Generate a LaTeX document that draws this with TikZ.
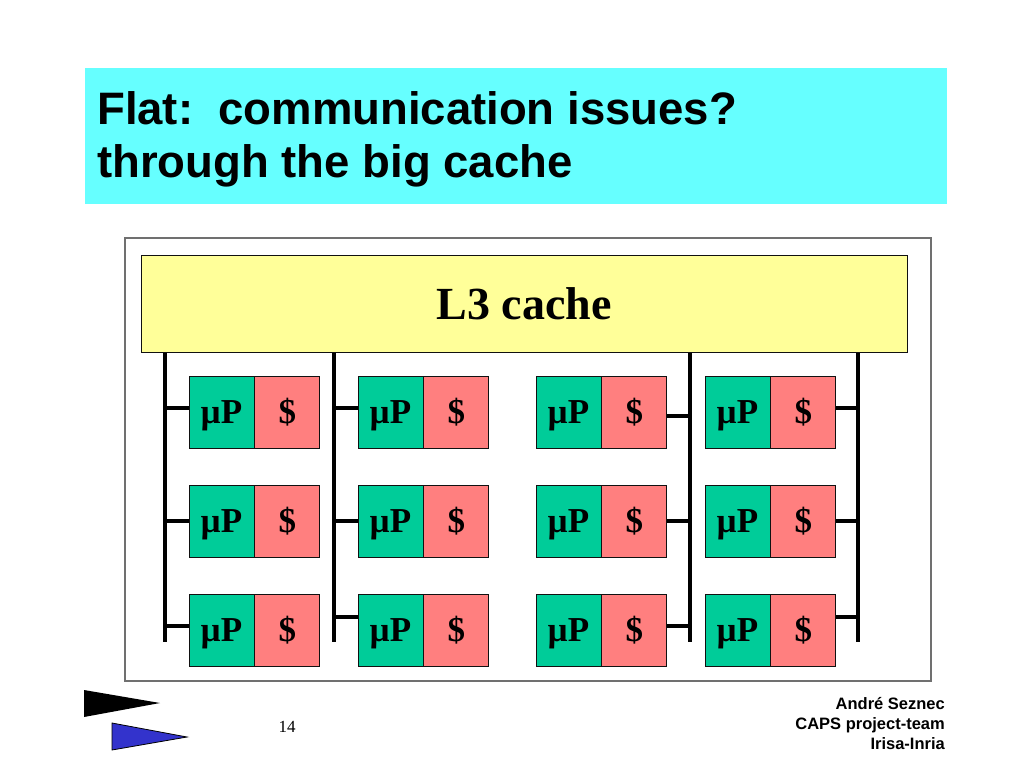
\documentclass[tikz,border=0pt]{standalone}
\usepackage{fontspec}
\setmainfont{Liberation Serif}
\setsansfont{Liberation Sans}
\definecolor{SlideCyan}{HTML}{66FFFF}
\definecolor{CacheYellow}{HTML}{FFFF99}
\definecolor{CoreGreen}{HTML}{00CC99}
\definecolor{CorePink}{HTML}{FF7F7F}
\definecolor{FrameGray}{HTML}{707070}
\definecolor{FlagBlue}{HTML}{3333CC}
\definecolor{SlideInk}{HTML}{111111}

\begin{document}
\begin{tikzpicture}[
        x=1pt, y=-1pt,
        banner/.style={
            fill=SlideCyan,
            minimum width=862pt,
            minimum height=136pt,
            inner sep=0pt
        },
        heading/.style={
            align=left,
            inner sep=0pt,
            font=\sffamily\bfseries\fontsize{45.5}{53}\selectfont
        },
        frame/.style={
            draw=FrameGray,
            line width=1.2pt,
            minimum width=806pt,
            minimum height=443pt
        },
        sharedcache/.style={
            draw=SlideInk,
            fill=CacheYellow,
            line width=1pt,
            minimum width=766pt,
            minimum height=97pt,
            font=\bfseries\fontsize{46}{50}\selectfont
        },
        core/.style={
            draw=SlideInk,
            fill=CoreGreen,
            line width=0.9pt,
            minimum width=65pt,
            minimum height=72pt,
            inner sep=0pt,
            text height=23pt,
            text depth=0pt,
            font=\bfseries\fontsize{35}{38}\selectfont
        },
        privcache/.style={
            core,
            fill=CorePink
        },
        bus/.style={
            line width=4pt,
            draw=black
        },
        credit/.style={
            align=right,
            inner sep=0pt,
            font=\sffamily\bfseries\fontsize{16.5}{20}\selectfont
        }
    ]
        \useasboundingbox (0,0) rectangle (1024,768);

        \node[banner] (banner) at (516,136) {};
        \node[heading, anchor=west] (title) at (97,139)
            {Flat:\ \ communication issues?\\through the big cache};

        \node[frame] (frame) at (528,459.5) {};
        \node[sharedcache] (l3) at (524,303.5) {L3 cache};

        \foreach \c/\x in {1/221.5,2/390.5,3/568.5,4/737.5}
            \foreach \r/\y in {1/412,2/521,3/630} {
                \node[core] (mp\c\r) at (\x,\y) {µP};
                \node[privcache, anchor=west] (ca\c\r) at (mp\c\r.east) {\$};
            }

        \foreach \b/\x in {1/165,2/334,3/690,4/858} {
            \coordinate (b\b) at (\x,642);
            \draw[bus] (l3.south -| b\b) -- (b\b);
        }
        \foreach \c/\y in {1/408,1/521,1/626,2/408,2/521,2/617}
            \draw[bus] (b\c |- 0,\y) -- (mp\c1.west |- 0,\y);
        \foreach \c/\y in {3/416,3/521,3/626,4/408,4/521,4/617}
            \draw[bus] (ca\c1.east |- 0,\y) -- (b\c |- 0,\y);

        \fill[black] (84,690) -- (160,703) -- (84,717) -- cycle;
        \draw[fill=FlagBlue, line width=0.8pt] (112,723) -- (187,737) -- (112,750) -- cycle;

        \node[font=\fontsize{17}{20}\selectfont] (page) at (287,727) {14};
        \node[credit, anchor=north east] (author) at (945,697)
            {André Seznec\\CAPS project-team\\Irisa-Inria};
    \end{tikzpicture}
\end{document}
